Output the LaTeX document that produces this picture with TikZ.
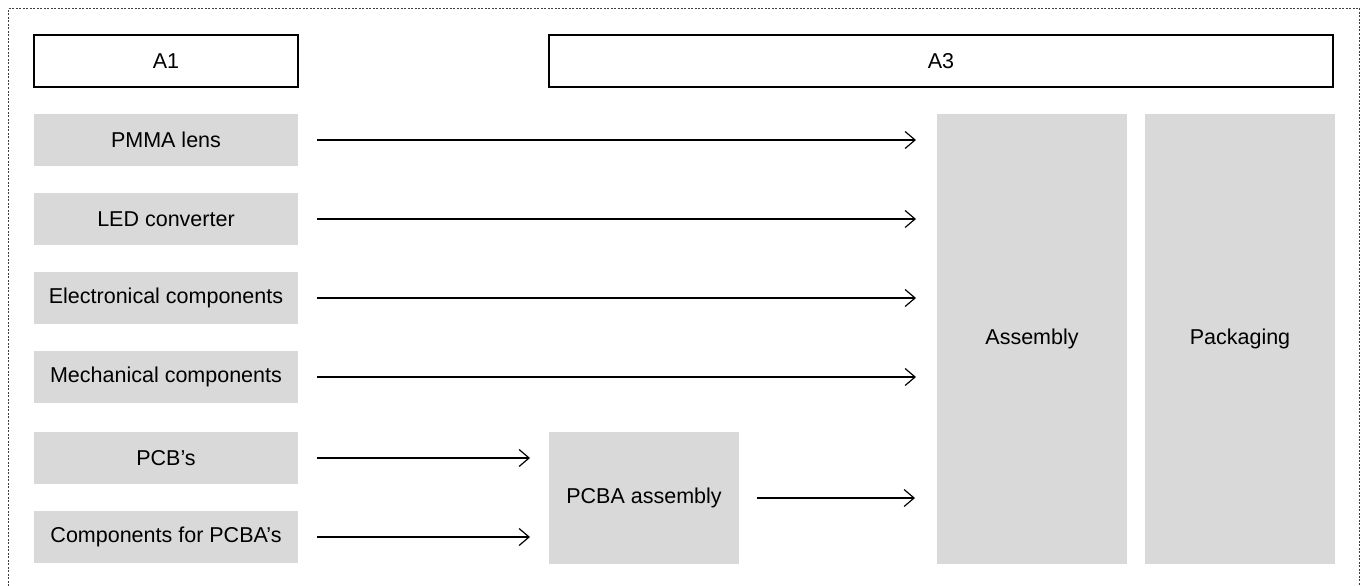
\documentclass[tikz,border=0pt]{standalone}
\usepackage{fontspec}
\setmainfont{Liberation Sans}
\usetikzlibrary{arrows.meta}
\definecolor{boxgray}{HTML}{D9D9D9}
\begin{document}
\begin{tikzpicture}[x=1pt,y=-1pt,
  base/.style={anchor=north west,inner sep=0pt,outer sep=0pt,font=\fontsize{21.5}{25}\selectfont,align=center},
  hdr/.style={base,draw=black,line width=1.2pt,fill=white},
  gbox/.style={base,fill=boxgray},
  arr/.style={draw=black,line width=1.2pt,-{Straight Barb[length=10pt,width=17pt,line width=1.2pt]}},
  frame/.style={draw=black!75,line width=1pt,dash pattern=on 2pt off 1.5pt}]
\useasboundingbox (0,0) rectangle (1365,586);
\draw[frame] (8.5,586) -- (8.5,8.5) -- (1359.5,8.5) -- (1359.5,586);
\node[hdr,minimum width=264pt,minimum height=52pt] (a1) at (34,35) {A1};
\node[hdr,minimum width=784pt,minimum height=52pt] (a3) at (549,35) {A3};
\node[gbox,minimum width=264pt,minimum height=52pt] (pmma) at (34,114) {PMMA lens};
\node[gbox,minimum width=264pt,minimum height=52pt] (led) at (34,193) {LED converter};
\node[gbox,minimum width=264pt,minimum height=52pt] (elec) at (34,272) {Electronical components};
\node[gbox,minimum width=264pt,minimum height=52pt] (mech) at (34,351) {Mechanical components};
\node[gbox,minimum width=264pt,minimum height=52pt] (pcb) at (34,432) {PCB’s};
\node[gbox,minimum width=264pt,minimum height=52pt] (comp) at (34,511) {Components for PCBA’s};
\node[gbox,minimum width=190pt,minimum height=132pt] (pcba) at (549,432) {PCBA assembly};
\node[gbox,minimum width=190pt,minimum height=450pt] (asm) at (937,114) {Assembly};
\node[gbox,minimum width=190pt,minimum height=450pt] (pack) at (1145,114) {Packaging};
\foreach \n in {pmma,led,elec,mech}{
  \draw[arr,shorten <=19pt,shorten >=21pt] (\n.east) -- (\n.east -| asm.west);
}
\draw[arr,shorten <=19pt,shorten >=19pt] (pcb.east) -- (pcb.east -| pcba.west);
\draw[arr,shorten <=19pt,shorten >=19pt] (comp.east) -- (comp.east -| pcba.west);
\draw[arr,shorten <=18pt,shorten >=22pt] (pcba.east) -- (pcba.east -| asm.west);
\end{tikzpicture}
\end{document}
